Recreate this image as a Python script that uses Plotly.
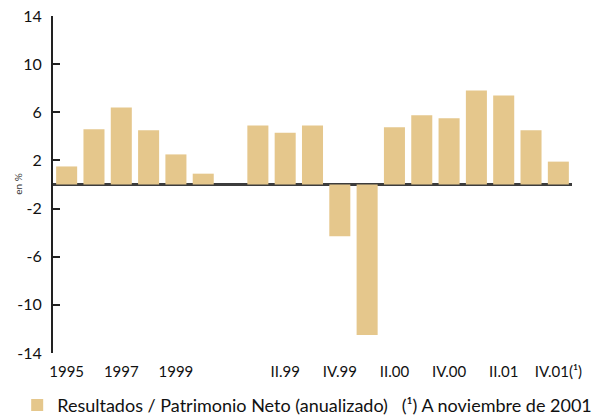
import plotly.graph_objects as go

# periodos: anuales 1995-2000, hueco, trimestrales I.99 - IV.01
periods = ["1995", "1996", "1997", "1998", "1999", "2000", " ",
           "I.99", "II.99", "III.99", "IV.99",
           "I.00", "II.00", "III.00", "IV.00",
           "I.01", "II.01", "III.01", "IV.01"]
values = [1.5, 4.6, 6.4, 4.5, 2.5, 0.9, None,
          4.9, 4.3, 4.9, -4.3,
          -12.5, 4.75, 5.75, 5.5,
          7.8, 7.4, 4.5, 1.9]

tick_vals = ["1995", "1997", "1999", "II.99", "IV.99", "II.00", "IV.00", "II.01", "IV.01"]
tick_text = ["1995", "1997", "1999", "II.99", "IV.99", "II.00", "IV.00", "II.01", "IV.01(¹)"]
y_ticks = [14, 10, 6, 2, -2, -6, -10, -14]

font_family = "Lato, 'Open Sans', sans-serif"
bar_color = "#E5C78C"

fig = go.Figure()
fig.add_trace(go.Bar(
    x=periods,
    y=values,
    marker=dict(color=bar_color, line=dict(width=0)),
    width=0.77,
    name="Resultados / Patrimonio Neto (anualizado)\u00a0\u00a0\u00a0(¹) A noviembre de 2001",
    showlegend=True,
))

fig.update_layout(
    width=611,
    height=417,
    margin=dict(l=53, r=39, t=16, b=64, autoexpand=False),
    plot_bgcolor="white",
    paper_bgcolor="white",
    font=dict(family=font_family, size=15, color="#111111"),
    showlegend=True,
    legend=dict(
        orientation="h",
        x=-0.069, xanchor="left",
        y=-0.155, yanchor="middle",
        font=dict(size=18),
        itemwidth=30,
        bgcolor="rgba(0,0,0,0)",
    ),
)

fig.update_xaxes(
    type="category",
    categoryorder="array",
    categoryarray=periods,
    range=[-0.5, len(periods) - 0.5],
    tickmode="array",
    tickvals=tick_vals,
    ticktext=tick_text,
    showline=False,
    showgrid=False,
    ticks="",
    tickfont=dict(size=15),
    ticklabelstandoff=8,
    automargin=False,
)

fig.update_yaxes(
    range=[-14, 14],
    tickmode="array",
    tickvals=y_ticks,
    ticktext=[str(v) if v >= 0 else "-" + str(-v) for v in y_ticks],
    showgrid=False,
    showline=True,
    linecolor="#222222",
    linewidth=2,
    ticks="inside",
    ticklen=7,
    tickwidth=2,
    tickcolor="#222222",
    zeroline=True,
    zerolinecolor="#3c3c3c",
    zerolinewidth=2.5,
    tickfont=dict(size=16),
    ticklabelstandoff=6,
    automargin=False,
)

fig.add_annotation(
    text="en %",
    xref="paper", yref="y",
    x=-0.069, y=0,
    xanchor="center", yanchor="middle",
    showarrow=False,
    textangle=-90,
    font=dict(size=10, color="#333333"),
)

# quitar el margen por defecto del body para que la figura ocupe toda la ventana
fig.write_html("out.html",
               config={"displayModeBar": False},
               post_script="document.body.style.margin='0';")
